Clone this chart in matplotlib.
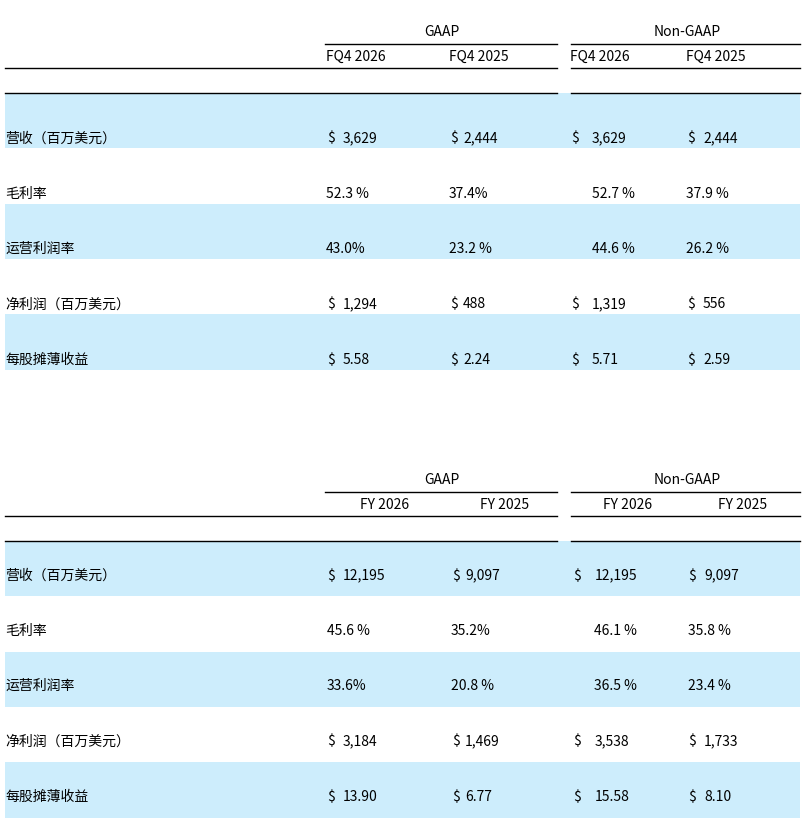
import matplotlib
matplotlib.use('Agg')
import matplotlib.pyplot as plt

plt.rcParams['font.family'] = ['Noto Sans CJK SC', 'DejaVu Sans']

metrics = ['营收（百万美元）', '毛利率', '运营利润率', '净利润（百万美元）', '每股摊薄收益']

# quarterly (FQ4)
q_cols = ['FQ4 2026', 'FQ4 2025', 'FQ4 2026', 'FQ4 2025']
q_gaap_26 = ['3,629', '52.3 %', '43.0%', '1,294', '5.58']
q_gaap_25 = ['2,444', '37.4%', '23.2 %', '488', '2.24']
q_ng_26 = ['3,629', '52.7 %', '44.6 %', '1,319', '5.71']
q_ng_25 = ['2,444', '37.9 %', '26.2 %', '556', '2.59']

# full year
y_cols = ['FY 2026', 'FY 2025', 'FY 2026', 'FY 2025']
y_gaap_26 = ['12,195', '45.6 %', '33.6%', '3,184', '13.90']
y_gaap_25 = ['9,097', '35.2%', '20.8 %', '1,469', '6.77']
y_ng_26 = ['12,195', '46.1 %', '36.5 %', '3,538', '15.58']
y_ng_25 = ['9,097', '35.8 %', '23.4 %', '1,733', '8.10']

is_dollar = [True, False, False, True, True]

BLUE = '#cdedfc'
FS = 10

fig = plt.figure(figsize=(8.06, 8.26), dpi=100)
ax = fig.add_axes([0, 0, 1, 1])
ax.set_xlim(0, 806)
ax.set_ylim(826, 0)
ax.axis('off')


def draw_table(top, cols, data, head_align, dollar_x, num_x, pct_x, text_off):
    # group headers
    ax.text(442, top, 'GAAP', ha='center', va='center', fontsize=FS)
    ax.text(687, top, 'Non-GAAP', ha='center', va='center', fontsize=FS)
    ax.plot([325, 557], [top + 12, top + 12], color='black', lw=1)
    ax.plot([571, 800], [top + 12, top + 12], color='black', lw=1)
    # sub headers
    if head_align == 'left':
        hx = [326, 449, 570, 686]
    else:
        hx = [385, 505, 628, 743]
    for x, c in zip(hx, cols):
        ax.text(x, top + 25, c, ha=head_align, va='center', fontsize=FS)
    for yy in [top + 36, top + 61]:
        ax.plot([5, 557], [yy, yy], color='black', lw=1)
        ax.plot([571, 800], [yy, yy], color='black', lw=1)
    # rows
    row_h = 55.3
    y0 = top + 61
    for i, m in enumerate(metrics):
        rt = y0 + i * row_h
        if i % 2 == 0:
            ax.add_patch(plt.Rectangle((5, rt), 795, row_h, color=BLUE, lw=0, zorder=0))
        ty = rt + text_off
        ax.text(5, ty, m, ha='left', va='center', fontsize=FS)
        for j, col in enumerate(data):
            if is_dollar[i]:
                ax.text(dollar_x[j], ty, '$', ha='left', va='center', fontsize=FS)
                ax.text(num_x[j], ty, col[i], ha='left', va='center', fontsize=FS)
            else:
                ax.text(pct_x[j], ty, col[i], ha='left', va='center', fontsize=FS)


draw_table(32, q_cols, [q_gaap_26, q_gaap_25, q_ng_26, q_ng_25], 'left',
           [327, 450, 571, 687], [343, 463, 592, 703], [326, 449, 592, 686], 45.5)
draw_table(480, y_cols, [y_gaap_26, y_gaap_25, y_ng_26, y_ng_25], 'center',
           [327, 452, 573, 688], [343, 465, 595, 704], [327, 451, 594, 688], 34.5)

fig.savefig('out.png', dpi=100)
